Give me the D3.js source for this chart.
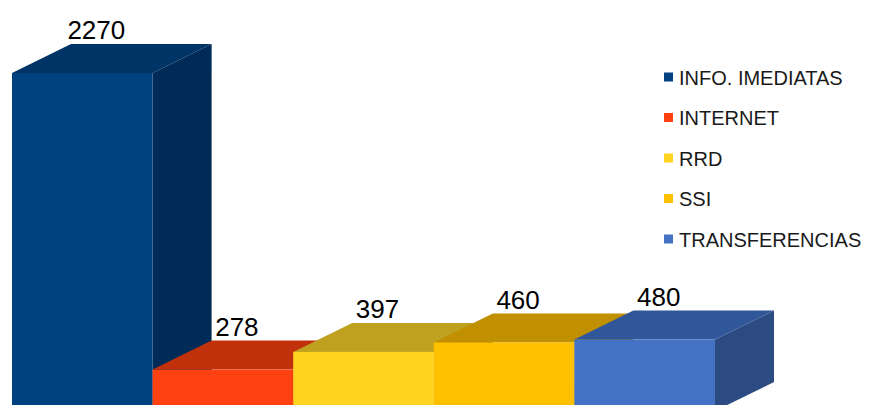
<!DOCTYPE html>
<html><head><meta charset="utf-8">
<script src="https://cdn.jsdelivr.net/npm/d3@7"></script>
<style>html,body{margin:0;padding:0;background:#fff;}svg{display:block;}</style>
</head><body>
<script>
const categories = ["INFO. IMEDIATAS", "INTERNET", "RRD", "SSI", "TRANSFERENCIAS"];
const values = [2270, 278, 397, 460, 480];
const frontColors = ["#00427f", "#ff4010", "#ffd320", "#ffc000", "#4472c4"];
const topColors = ["#003467", "#c1310c", "#c0a01f", "#c09000", "#30579a"];
const sideColors = ["#002b56", "#a1290a", "#a08518", "#a07800", "#2c4b82"];

const W = 869, H = 405;
const svg = d3.select("body").append("svg").attr("width", W).attr("height", H);

const x = d3.scaleBand().domain(categories).range([12, 715]).padding(0);
const y = d3.scaleLinear().domain([0, 2500]).range([411, 411 - 2500 * 338 / 2270]);
const dx = 59, dy = -29;

const data = categories.map((c, i) => ({c, v: values[i], i}));
const g = svg.append("g");
data.forEach(d => {
  const x0 = x(d.c), x1 = x0 + x.bandwidth(), yt = y(d.v), yb = y(0);
  const bg = g.append("g");
  // side
  bg.append("path").attr("d", `M${x1},${yt}L${x1+dx},${yt+dy}L${x1+dx},${yb+dy}L${x1},${yb}Z`).attr("fill", sideColors[d.i]);
  // top
  bg.append("path").attr("d", `M${x0},${yt}L${x0+dx},${yt+dy}L${x1+dx},${yt+dy}L${x1},${yt}Z`).attr("fill", topColors[d.i]);
  // front
  bg.append("rect").attr("x", x0).attr("y", yt).attr("width", x.bandwidth()).attr("height", yb - yt).attr("fill", frontColors[d.i]);
});

// labels
svg.append("g").selectAll("text").data(data).join("text")
  .attr("x", d => x(d.c) + x.bandwidth() / 2 + 14)
  .attr("y", d => y(d.v) + dy - 5)
  .attr("text-anchor", "middle")
  .attr("font-family", "Liberation Sans, Arial, sans-serif")
  .attr("font-size", 26)
  .attr("fill", "#000")
  .text(d => d.v);

// legend
const leg = svg.append("g").attr("transform", "translate(664,77)");
const items = leg.selectAll("g").data(data).join("g").attr("transform", (d, i) => `translate(0,${i * 40.5})`);
items.append("rect").attr("x", 0).attr("y", -4.5).attr("width", 9).attr("height", 9).attr("fill", d => frontColors[d.i]);
items.append("text").attr("x", 15).attr("y", 7.5)
  .attr("font-family", "Liberation Sans, Arial, sans-serif")
  .attr("font-size", 20).attr("fill", "#1a1a1a")
  .text(d => d.c);
</script>
</body></html>
